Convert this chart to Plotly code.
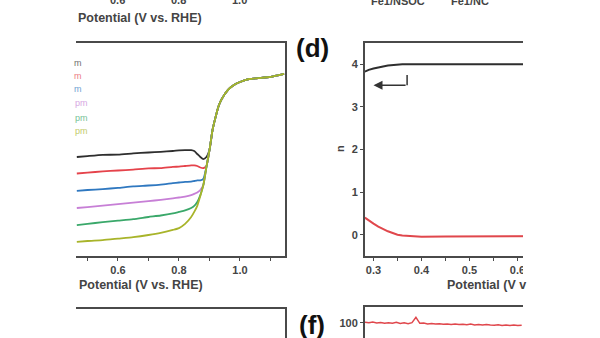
import plotly.graph_objects as go

W, H = 600, 338


def fx(p):
    return p / W


def fy(p):
    return 1 - p / H


# ---------------- Panel (c): LSV curves at several rotation speeds ----------------
potential_c = [0.465, 0.50, 0.55, 0.60, 0.65, 0.70, 0.74, 0.78, 0.80, 0.82, 0.84, 0.85, 0.86, 0.87,
               0.88, 0.89, 0.90, 0.91, 0.92, 0.93, 0.94, 0.96, 0.98, 1.00, 1.03, 1.06, 1.10, 1.145]
j_400 = [-2.90, -2.87, -2.83, -2.82, -2.78, -2.75, -2.73, -2.70, -2.68, -2.67, -2.67, -2.70, -2.80, -2.90,
         -2.97, -2.90, -2.67, -2.00, -1.57, -1.20, -0.97, -0.67, -0.50, -0.40, -0.30, -0.27, -0.23, -0.13]
j_625 = [-3.45, -3.42, -3.38, -3.35, -3.32, -3.28, -3.27, -3.23, -3.22, -3.20, -3.18, -3.18, -3.20, -3.25,
         -3.27, -3.20, -2.67, -2.00, -1.57, -1.20, -0.97, -0.67, -0.50, -0.40, -0.30, -0.27, -0.23, -0.13]
j_900 = [-4.03, -4.00, -3.97, -3.93, -3.88, -3.85, -3.82, -3.77, -3.75, -3.73, -3.72, -3.70, -3.68, -3.68,
         -3.63, -3.23, -2.67, -2.00, -1.57, -1.20, -0.97, -0.67, -0.50, -0.40, -0.30, -0.27, -0.23, -0.13]
j_1225 = [-4.60, -4.57, -4.52, -4.47, -4.42, -4.37, -4.33, -4.28, -4.25, -4.22, -4.17, -4.13, -4.08, -4.00,
          -3.83, -3.23, -2.67, -2.00, -1.57, -1.20, -0.97, -0.67, -0.50, -0.40, -0.30, -0.27, -0.23, -0.13]
j_1600 = [-5.17, -5.13, -5.07, -5.02, -4.97, -4.90, -4.85, -4.78, -4.73, -4.68, -4.60, -4.53, -4.40, -4.17,
          -3.83, -3.23, -2.67, -2.00, -1.57, -1.20, -0.97, -0.67, -0.50, -0.40, -0.30, -0.27, -0.23, -0.13]
j_2025 = [-5.73, -5.70, -5.67, -5.62, -5.57, -5.50, -5.43, -5.33, -5.27, -5.13, -4.90, -4.73, -4.53, -4.20,
          -3.83, -3.23, -2.67, -2.00, -1.57, -1.20, -0.97, -0.67, -0.50, -0.40, -0.30, -0.27, -0.23, -0.13]
rpm_labels = ["400 rpm", "625 rpm", "900 rpm", "1225 rpm", "1600 rpm", "2025 rpm"]
rpm_fragments = ["m", "m", "m", "pm", "pm", "pm"]   # visible tails of the cropped legend text
c_series = [j_400, j_625, j_900, j_1225, j_1600, j_2025]
c_colors = ["#2e2e2e", "#e5434b", "#2f78c0", "#c77fd6", "#3aa86a", "#a8b42a"]

# ---------------- Panel (d): electron transfer number ----------------
potential_d = [0.282, 0.29, 0.30, 0.31, 0.32, 0.33, 0.34, 0.35, 0.36, 0.38, 0.40, 0.45, 0.50, 0.55,
               0.60, 0.65, 0.70, 0.75, 0.772]
n_values = [3.83, 3.87, 3.90, 3.93, 3.95, 3.97, 3.98, 3.99, 4.00, 4.00, 4.00, 4.00, 3.99, 4.00,
            4.00, 4.00, 4.00, 4.00, 4.00]
h2o2_values = [0.40, 0.33, 0.26, 0.19, 0.13, 0.08, 0.04, 0.00, -0.02, -0.04, -0.05, -0.04, -0.04, -0.03,
               -0.03, -0.03, -0.03, -0.03, -0.03]
arrow_tip = (0.30, 3.51)
arrow_corner = (0.37, 3.51)
arrow_top = (0.37, 3.75)

# ---------------- Panel (f): stability (current retention) ----------------
time_f = [i * 600 for i in range(41)]
retention_f = [100.4, 100.1, 100.6, 100.0, 100.3, 99.8, 100.2, 99.9, 100.5, 99.7, 100.1, 99.6, 100.2,
               103.6, 99.8, 100.0, 99.4, 99.7, 99.3, 99.5, 99.2, 99.4, 99.1, 99.3, 99.0, 99.2, 98.9,
               99.3, 98.8, 99.0, 98.7, 99.1, 98.8, 98.6, 98.9, 98.5, 98.8, 98.4, 98.7, 98.4, 98.6]

# Tick texts of the panels cut off at the top of the picture
top_left_ticks = ["0.6", "0.8", "1.0"]
top_right_categories = ["Fe1/NSOC", "Fe1/NC"]
axis_title = "Potential (V vs. RHE)"

FONT = "Liberation Sans"
AX = "#4a4a4a"
TXT = "#444444"

fig = go.Figure()

for name, ys, col in zip(rpm_labels, c_series, c_colors):
    fig.add_trace(go.Scatter(x=potential_c, y=ys, mode="lines", name=name,
                             line=dict(color=col, width=1.8, shape="spline", smoothing=0.5),
                             xaxis="x", yaxis="y", showlegend=False))

fig.add_trace(go.Scatter(x=potential_d, y=n_values, mode="lines", line=dict(color="#2e2e2e", width=2),
                         xaxis="x2", yaxis="y2", showlegend=False))
fig.add_trace(go.Scatter(x=potential_d, y=h2o2_values, mode="lines", line=dict(color="#e0474c", width=2),
                         xaxis="x2", yaxis="y2", showlegend=False))

fig.add_trace(go.Scatter(x=[], y=[], xaxis="x3", yaxis="y3", showlegend=False))

fig.add_trace(go.Scatter(x=time_f, y=retention_f, mode="lines", line=dict(color="#e0474c", width=1.5),
                         xaxis="x4", yaxis="y4", showlegend=False))

tickfont = dict(family=FONT, size=11, color=TXT, weight="bold")
common = dict(showgrid=False, zeroline=False, linecolor=AX, linewidth=2, tickcolor=AX, tickfont=tickfont)

ydom = [fy(256), fy(43)]
fig.update_layout(
    width=W, height=H, autosize=False,
    margin=dict(l=0, r=0, t=0, b=0, pad=0),
    paper_bgcolor="white", plot_bgcolor="white",
    xaxis=dict(domain=[fx(76), fx(284.5)], range=[0.4623, 1.146], anchor="y", showline=True, mirror=True,
               ticks="outside", ticklen=3, dtick=0.2, tickformat=".1f",
               minor=dict(dtick=0.1, ticks="outside", ticklen=3, tickcolor=AX), **common),
    yaxis=dict(domain=ydom, range=[-6.2, 0.9], anchor="x", side="right", showline=True, ticks="",
               showticklabels=False, **common),
    xaxis2=dict(domain=[fx(365), 1.0], range=[0.28229, 0.771875], anchor="y2", showline=True, mirror=True,
                ticks="outside", ticklen=3, dtick=0.1, tickformat=".1f",
                minor=dict(dtick=0.05, ticks="outside", ticklen=3, tickcolor=AX), **common),
    yaxis2=dict(domain=ydom, range=[-0.5, 4.5], anchor="x2", showline=True, ticks="outside", ticklen=3,
                dtick=1, tickformat="d", **common),
    xaxis3=dict(domain=[fx(76), fx(284.5)], range=[0, 1], anchor="y3", side="top", showline=True, ticks="",
                showticklabels=False, **common),
    yaxis3=dict(domain=[0, fy(309)], range=[0, 1], anchor="x3", side="right", showline=True, ticks="",
                showticklabels=False, **common),
    xaxis4=dict(domain=[fx(365), 1.0], range=[0, 36000], anchor="y4", side="top", showline=True, ticks="",
                showticklabels=False, **common),
    yaxis4=dict(domain=[0, fy(307)], range=[90.6, 110], anchor="x4", showline=True, ticks="outside",
                ticklen=3, tick0=0, dtick=20, **common),
)

# white cover where the reference picture is cropped on the right
fig.add_shape(type="rect", xref="paper", yref="paper", x0=fx(523), x1=1.02, y0=-0.02, y1=1.02,
              fillcolor="white", line=dict(width=0), layer="above")

# L-shaped arrow in panel (d)
fig.add_shape(type="line", xref="x2", yref="y2", x0=arrow_corner[0], y0=arrow_corner[1],
              x1=arrow_top[0], y1=arrow_top[1], line=dict(color="#333333", width=1.5))
fig.add_annotation(xref="x2", yref="y2", axref="x2", ayref="y2", x=arrow_tip[0], y=arrow_tip[1],
                   ax=arrow_corner[0], ay=arrow_corner[1], text="", showarrow=True, arrowhead=2,
                   arrowsize=1.2, arrowwidth=1.5, arrowcolor="#333333")


def ann(text, x, y, xanchor="center", size=None, color=TXT, angle=0, family=FONT):
    f = dict(family=family, size=size or 12.5, color=color)
    fig.add_annotation(xref="paper", yref="paper", x=fx(x), y=fy(y), text=text, showarrow=False,
                       xanchor=xanchor, yanchor="middle", font=f, textangle=angle)


# axis titles
ann("<b>" + axis_title + "</b>", 77, 285, xanchor="left")
ann("<b>" + axis_title[:14] + "</b>", 445, 285, xanchor="left")
ann("<b>n</b>", 340, 149, size=11, angle=-90)

# fragments of the panels above
ann("<b>" + axis_title + "</b>", 76, 18, xanchor="left")
for t, x in zip(top_left_ticks, [117, 178, 239]):
    ann("<b>" + t + "</b>", x, 0, size=11)
for t, x in zip(top_right_categories, [398, 470]):
    ann("<b>" + t + "</b>", x, 1.5, size=11)

# panel labels
ann("<b>(d)</b>", 312, 48, size=26, color="#111111")
ann("<b>(f)</b>", 312, 325, size=26, color="#111111")

# cropped legend text of panel (c)
for frag, col, y in zip(rpm_fragments, c_colors, [62.7, 76, 89.3, 103.3, 117.7, 131]):
    right = 84 if len(frag) == 1 else 90
    fig.add_annotation(xref="paper", yref="paper", x=fx(right), y=fy(y), text=frag, showarrow=False,
                       xanchor="right", yanchor="middle", opacity=0.7,
                       font=dict(family=FONT, size=9, color=col))

fig.write_html("out.html", config={"displayModeBar": False})
